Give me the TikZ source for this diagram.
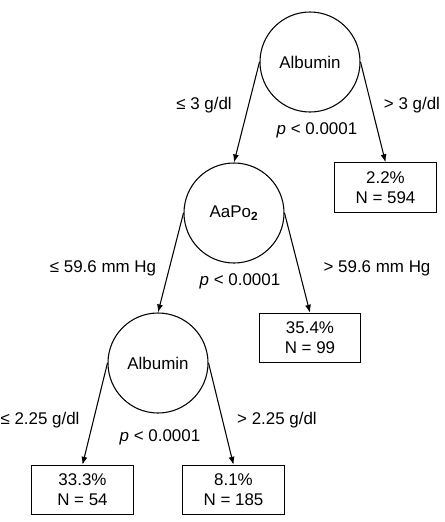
\documentclass[tikz,border=0pt]{standalone}
\usepackage{fontspec}
\setmainfont{Liberation Sans}
\usetikzlibrary{arrows.meta,positioning}
\tikzset{
  split/.style={circle, draw, line width=0.8pt, minimum size=75pt, inner sep=0pt},
  leaf/.style={rectangle, draw, line width=0.8pt, minimum width=76pt, minimum height=37pt,
               align=center, inner sep=0pt},
  arr/.style={-{Latex[length=6pt,width=4.5pt]}, line width=0.8pt},
  cut/.style={inner sep=0pt},
}

\begin{document}
\begin{tikzpicture}[x=0.75pt, y=-0.75pt, font=\fontsize{12.7}{15}\selectfont]
    \useasboundingbox (0,0) rectangle (444,522);
    % splits
    \node[split] (s1) at (310,62) {Albumin};
    \node[split] (s2) at (234,213) {AaPo\textsubscript{\textbf{2}}};
    \node[split] (s3) at (158,363) {Albumin};
    % leaves
    \node[leaf] (l1) at (385.5,187.5) {2.2\%\\N = 594};
    \node[leaf] (l2) at (310,338) {35.4\%\\N = 99};
    \node[leaf] (l3) at (82.5,490) {33.3\%\\N = 54};
    \node[leaf] (l4) at (233.5,490) {8.1\%\\N = 185};
    \draw[arr] (s1.west) -- (s2.north); \draw[arr] (s1.east) -- (l1.north);
    \draw[arr] (s2.west) -- (s3.north); \draw[arr] (s2.east) -- (l2.north);
    \draw[arr] (s3.west) -- (l3.north); \draw[arr] (s3.east) -- (l4.north);
    % cut labels
    \node[cut] (c1l) at (204,105) {≤ 3 g/dl};
    \node[cut] (c1r) at (412,105) {> 3 g/dl};
    \node[cut] (p1) at (317,130) {\textit{p} < 0.0001};
    \node[cut] (c2l) at (103,268) {≤ 59.6 mm Hg};
    \node[cut] (c2r) at (377,268) {> 59.6 mm Hg};
    \node[cut] (p2) at (240,281) {\textit{p} < 0.0001};
    \node[cut] (c3l) at (40,420) {≤ 2.25 g/dl};
    \node[cut] (c3r) at (277,420) {> 2.25 g/dl};
    \node[cut] (p3) at (160,437) {\textit{p} < 0.0001};
\end{tikzpicture}
\end{document}
